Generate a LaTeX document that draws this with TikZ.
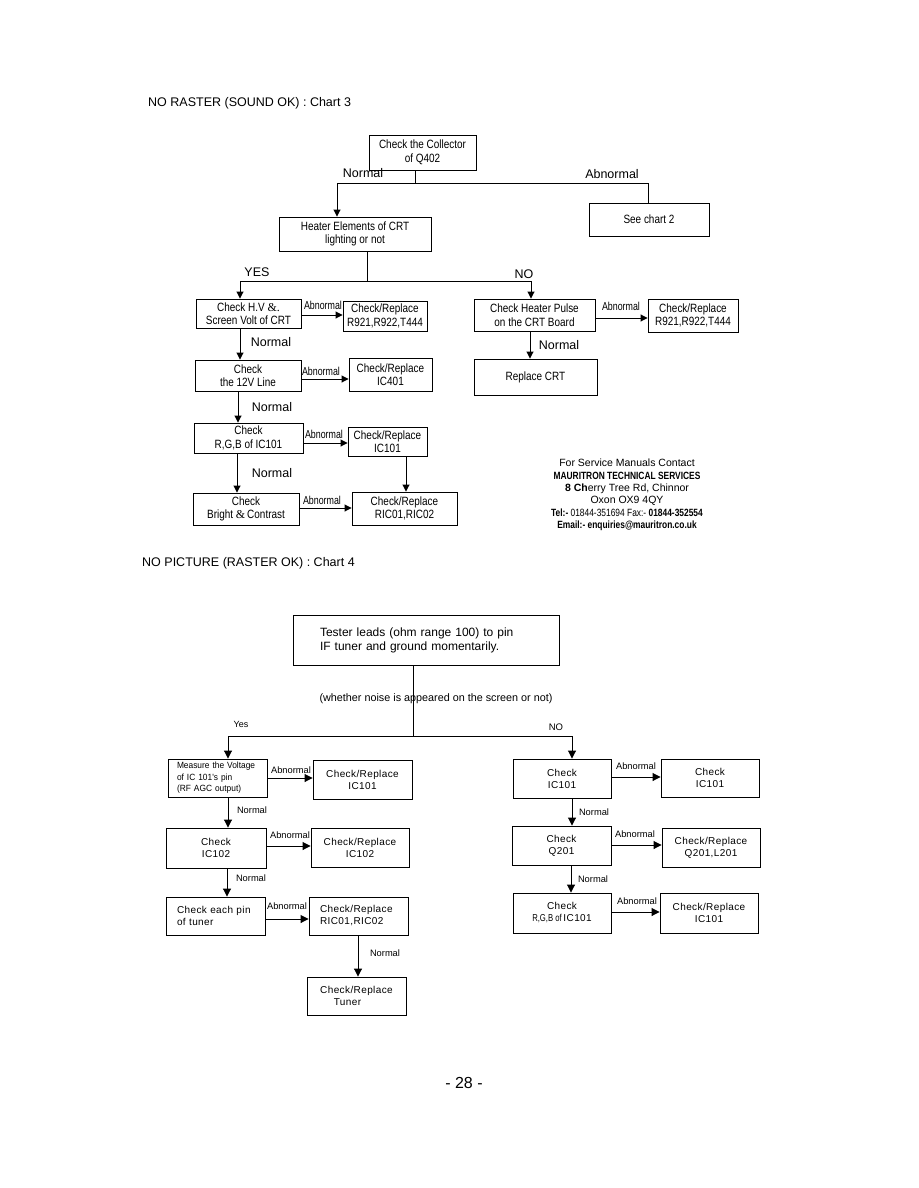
\documentclass[tikz,border=0pt]{standalone}
\usepackage{fontspec}
\setmainfont{Liberation Sans}
\newfontfamily\topf[FakeStretch=0.83]{Liberation Sans}
\newfontfamily\condf[FakeStretch=0.77]{Liberation Sans}
\newfontfamily\botf[LetterSpace=4]{Liberation Sans}
\newfontfamily\ampf{Liberation Serif}
\newfontfamily\narf[FakeStretch=0.8]{Liberation Sans}
\newfontfamily\measf[FakeStretch=0.93]{Liberation Sans}
\usetikzlibrary{arrows.meta}
\newcommand\fs[2]{\fontsize{#1}{#2}\selectfont}
\newcommand\bx[7]{\node[#1, minimum width={#5-#3}, minimum height={#6-#4}] (#2) at ({(#3+#5)/2},{(#4+#6)/2}) {#7};}
\tikzset{
  box/.style={draw, line width=0.9pt, inner sep=0pt, align=center},
  tb/.style={box, font=\topf\fs{12}{13.5}},
  bb/.style={box, font=\botf\fs{10}{12}},
  ta/.style={line width=0.9pt, -{Triangle[length=7pt,width=7pt]}},
  ba/.style={line width=0.9pt, -{Triangle[length=8pt,width=8pt]}},
  ln/.style={line width=0.9pt},
  tlab/.style={font=\fs{12.5}{14}, inner sep=0pt},
  clab/.style={font=\condf\fs{11.5}{13}, inner sep=0pt},
  blab/.style={font=\fs{9.3}{11}, inner sep=0pt},
}
\begin{document}
\begin{tikzpicture}[x=1pt,y=-1pt]
\useasboundingbox (0,0) rectangle (918,1188);
\fill[white] (0,0) rectangle (918,1188);

% ---------------- Chart 3 ----------------
\node[anchor=west, inner sep=0pt, font=\fs{12.5}{14}] (title1) at (148,103) {NO RASTER (SOUND OK) : Chart 3};

\bx{tb}{q402}{369}{135}{476}{170}{Check the Collector\\of Q402}
\bx{tb}{heater}{279}{217}{431}{251}{Heater Elements of CRT\\lighting or not}
\bx{tb}{chart2}{589}{203}{709}{236}{See chart 2}
\bx{tb}{hv}{196}{299}{301}{328}{Check H.V {\ampf\&.}\\Screen Volt of CRT}
\bx{tb}{r921a}{343}{301}{427}{331}{Check/Replace\\R921,R922,T444}
\bx{tb}{v12}{195}{360}{301}{391}{Check\\the 12V Line}
\bx{tb}{ic401}{349}{358}{432}{391}{Check/Replace\\IC401}
\bx{tb}{rgb}{194}{423}{303}{453}{Check\\R,G,B of IC101}
\bx{tb}{ic101a}{348}{427}{427}{456}{Check/Replace\\IC101}
\bx{tb}{bright}{193}{493}{299}{525}{Check\\Bright {\ampf\&}\,Contrast}
\bx{tb}{ric01a}{352}{492}{457}{525}{Check/Replace\\RIC01,RIC02}
\bx{tb}{pulse}{474}{299}{595}{331}{Check Heater Pulse\\on the CRT Board}
\bx{tb}{r921b}{648}{299}{738}{332}{Check/Replace\\R921,R922,T444}
\bx{tb}{crt}{474}{359}{597}{395}{Replace CRT}

% connectors chart 3
\coordinate (j1) at (415,183);
\coordinate (j1l) at (337,183);
\coordinate (j1r) at (648,183);
\draw[ln] (q402.south -| j1) -- (j1);
\draw[ln] (j1l) -- (j1r);
\draw[ta] (j1l) -- (heater.north -| j1l);
\draw[ln] (j1r) -- (chart2.north -| j1r);
\node[tlab] (lnorm1) at (363,173) {Normal};
\node[tlab] (labn1) at (612,174) {Abnormal};

\coordinate (j2) at (367,281);
\coordinate (j2l) at (240,281);
\coordinate (j2r) at (531,281);
\draw[ln] (heater.south -| j2) -- (j2);
\draw[ln] (j2l) -- (j2r);
\draw[ta] (j2l) -- (hv.north -| j2l);
\draw[ta] (j2r) -- (pulse.north -| j2r);
\node[tlab] (lyes) at (257,272) {YES};
\node[tlab] (lno) at (524,274) {NO};

\draw[ta] (hv.east |- 0,315) -- (r921a.west |- 0,315);
\node[clab] (la2) at (323,305) {Abnormal};
\draw[ta] (hv.south -| 240,0) -- (v12.north -| 240,0);
\node[tlab] (ln2) at (271,342) {Normal};

\draw[ta] (v12.east |- 0,379) -- (ic401.west |- 0,379);
\node[clab] (la3) at (321,371) {Abnormal};
\draw[ta] (v12.south -| 238,0) -- (rgb.north -| 238,0);
\node[tlab] (ln3) at (272,407) {Normal};

\draw[ta] (rgb.east |- 0,443) -- (ic101a.west |- 0,443);
\node[clab] (la4) at (324,434) {Abnormal};
\draw[ta] (rgb.south -| 237,0) -- (bright.north -| 237,0);
\node[tlab] (ln4) at (272,473) {Normal};

\draw[ta] (bright.east |- 0,508) -- (ric01a.west |- 0,508);
\node[clab] (la5) at (322,500) {Abnormal};
\draw[ta] (ic101a.south -| 406,0) -- (ric01a.north -| 406,0);

\draw[ta] (pulse.east |- 0,318) -- (r921b.west |- 0,318);
\node[clab] (la6) at (621,306) {Abnormal};
\draw[ta] (pulse.south -| 530,0) -- (crt.north -| 530,0);
\node[tlab] (ln6) at (559,345) {Normal};

% contact block
\node[inner sep=0pt, align=center, font=\fs{10.5}{12.3}] (contact) at (627,495) {%
For Service Manuals Contact\\
{\narf\bfseries MAURITRON TECHNICAL SERVICES}\\
{\bfseries 8 Ch}erry Tree Rd, Chinnor\\
Oxon OX9 4QY\\
{\narf{\bfseries Tel:-} 01844-351694 Fax:- {\bfseries 01844-352554}}\\
{\narf\bfseries Email:- enquiries@mauritron.co.uk}};

% ---------------- Chart 4 ----------------
\node[anchor=west, inner sep=0pt, font=\fs{12.5}{14}] (title2) at (142,563) {NO PICTURE (RASTER OK) : Chart 4};

\node[draw, line width=0.9pt, inner ysep=0pt, inner xsep=27pt, align=left, text width=212pt,
  minimum width=266pt, minimum height=50pt, font=\fs{12}{14.5}] (tester) at (426,640.5)
  {Tester leads (ohm range 100) to pin\\IF tuner and ground momentarily.};

\coordinate (j3) at (413,736);
\coordinate (j3l) at (228,736);
\coordinate (j3r) at (572,736);
\draw[ln] (tester.south -| j3) -- (j3);
\draw[ln] (j3l) -- (j3r);
\node[inner sep=0pt, font=\fs{10.8}{13}] (noise) at (436,699) {(whether noise is appeared on the screen or not)};
\node[inner sep=0pt, font=\fs{9}{11}] (lyes2) at (241,724) {Yes};
\node[inner sep=0pt, font=\fs{9.5}{11}] (lno2) at (556,727) {NO};

\node[draw, line width=0.9pt, inner ysep=0pt, inner xsep=9pt, align=left, text width=81pt,
  minimum width=99pt, minimum height=38pt, font=\measf\fs{9}{11.5}] (measure) at (217.5,778)
  {Measure the Voltage\\of IC 101's pin\\(RF AGC output)};
\bx{bb}{cr101}{313}{760}{412}{799}{Check/Replace\\IC101}
\bx{bb}{ic102}{166}{828}{266}{868}{Check\\IC102}
\bx{bb}{cr102}{311}{828}{409}{867}{Check/Replace\\IC102}
\node[draw, line width=0.9pt, inner ysep=0pt, inner xsep=11pt, align=left, text width=77pt,
  minimum width=99pt, minimum height=38pt, font=\botf\fs{10}{12}] (pin) at (215.5,916)
  {Check each pin\\of tuner};
\node[draw, line width=0.9pt, inner ysep=0pt, inner xsep=11pt, align=left, text width=77pt,
  minimum width=99pt, minimum height=38pt, font=\botf\fs{10}{12}] (ric01b) at (358.5,916)
  {Check/Replace\\RIC01,RIC02};
\bx{bb}{tuner}{307}{977}{406}{1015}{Check/Replace\\\hspace*{-18pt}Tuner}

\bx{bb}{ic101c}{513}{759}{611}{798}{Check\\IC101}
\bx{bb}{chk101}{661}{759}{759}{797}{Check\\IC101}
\bx{bb}{q201}{512}{826}{611}{865}{Check\\Q201}
\bx{bb}{crq201}{662}{828}{760}{867}{Check/Replace\\Q201,L201}
\bx{bb}{rgb2}{513}{893}{611}{933}{Check\\{\condf R,G,B of\,}IC101}
\bx{bb}{cr101b}{660}{893}{758}{933}{Check/Replace\\IC101}

\draw[ba] (j3l) -- (measure.north -| j3l);
\draw[ba] (j3r) -- (ic101c.north -| j3r);

\draw[ba] (measure.east |- 0,778) -- (cr101.west |- 0,778);
\node[blab] (lb1) at (291,770) {Abnormal};
\draw[ba] (measure.south -| 228,0) -- (ic102.north -| 228,0);
\node[blab] (nb1) at (252,810) {Normal};
\draw[ba] (ic102.east |- 0,846) -- (cr102.west |- 0,846);
\node[blab] (lb2) at (290,835) {Abnormal};
\draw[ba] (ic102.south -| 227,0) -- (pin.north -| 227,0);
\node[blab] (nb2) at (251,878) {Normal};
\draw[ba] (pin.east |- 0,919) -- (ric01b.west |- 0,919);
\node[blab] (lb3) at (287,906) {Abnormal};
\draw[ba] (ric01b.south -| 358,0) -- (tuner.north -| 358,0);
\node[blab] (nb3) at (385,953) {Normal};

\draw[ba] (ic101c.east |- 0,777) -- (chk101.west |- 0,777);
\node[blab] (lb4) at (636,766) {Abnormal};
\draw[ba] (ic101c.south -| 572,0) -- (q201.north -| 572,0);
\node[blab] (nb4) at (594,812) {Normal};
\draw[ba] (q201.east |- 0,845) -- (crq201.west |- 0,845);
\node[blab] (lb5) at (635,834) {Abnormal};
\draw[ba] (q201.south -| 571,0) -- (rgb2.north -| 571,0);
\node[blab] (nb5) at (593,879) {Normal};
\draw[ba] (rgb2.east |- 0,912) -- (cr101b.west |- 0,912);
\node[blab] (lb6) at (637,901) {Abnormal};

\node[inner sep=0pt, font=\fs{16}{18}] (page) at (464,1083) {- 28 -};
\end{tikzpicture}
\end{document}
